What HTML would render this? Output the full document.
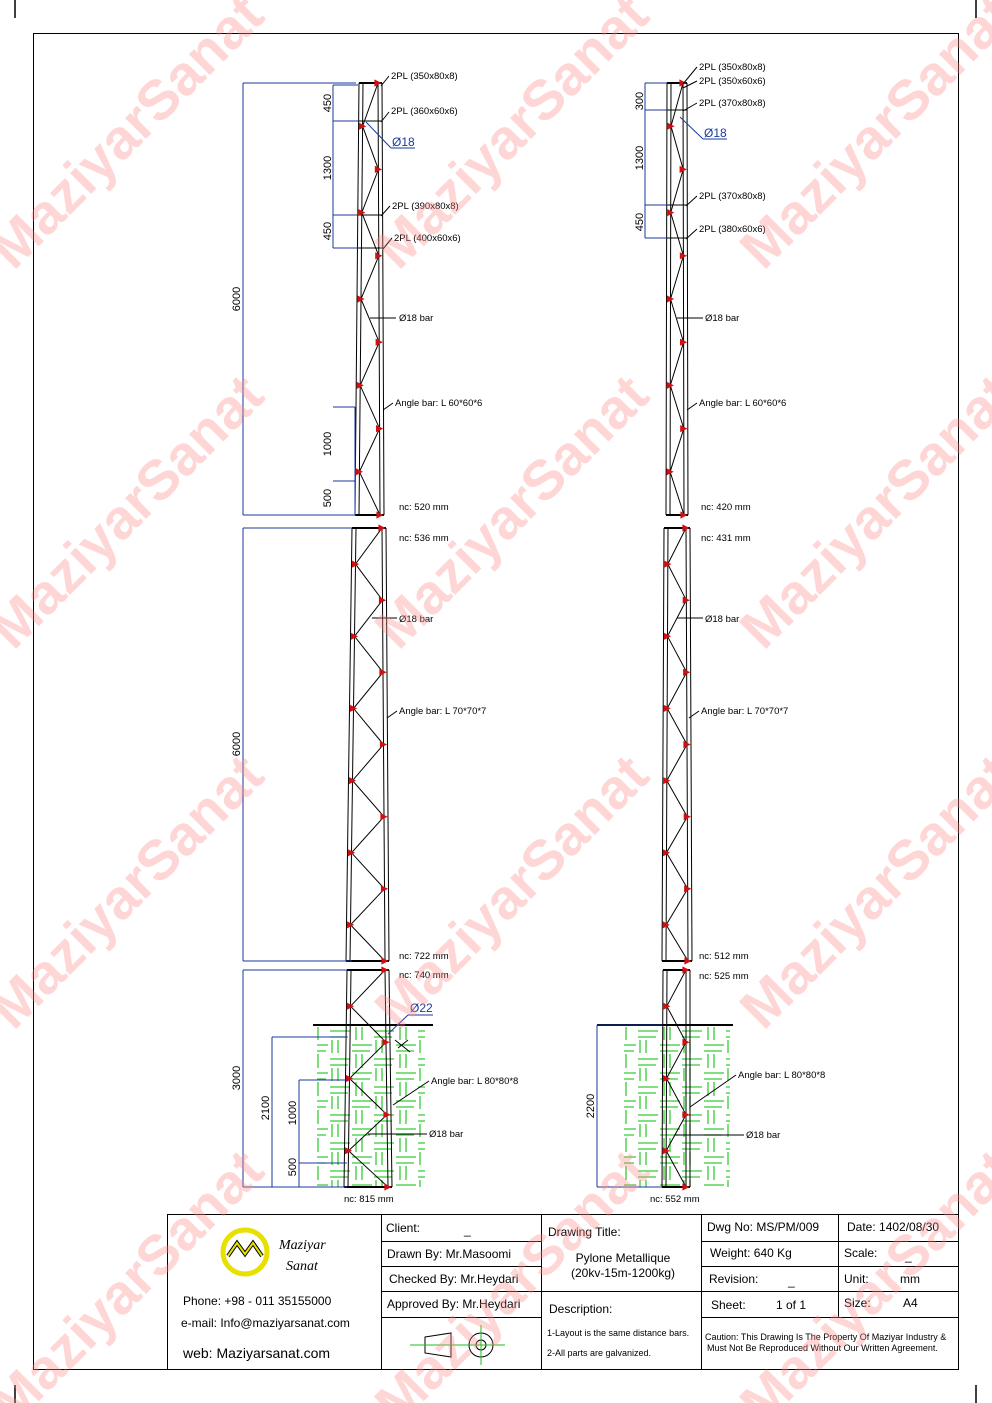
<!DOCTYPE html>
<html><head><meta charset="utf-8"><style>
html,body{margin:0;padding:0;background:#fff}
svg{display:block;font-family:"Liberation Sans",sans-serif}
</style></head><body>
<svg width="992" height="1403" viewBox="0 0 992 1403" xmlns="http://www.w3.org/2000/svg">
<defs>
<marker id="nd" viewBox="-5 -5 10 10" markerWidth="9" markerHeight="9" markerUnits="userSpaceOnUse"><path d="M-4 -4 L4 0 L-4 4Z" fill="#d01010"/></marker>
<pattern id="sp" x="0" y="1025" width="44" height="28" patternUnits="userSpaceOnUse">
<g stroke="#33cc33" stroke-width="1.3">
<line x1="22" y1="6" x2="42" y2="6"/><line x1="4" y1="1" x2="4" y2="15"/><line x1="10" y1="1" x2="10" y2="15"/>
<line x1="0" y1="20" x2="20" y2="20"/><line x1="24" y1="15" x2="24" y2="28"/><line x1="30" y1="15" x2="30" y2="28"/>
<line x1="22" y1="12" x2="40" y2="12"/><line x1="0" y1="26" x2="18" y2="26"/>
</g></pattern>
</defs>
<rect x="317" y="1027" width="108" height="160" fill="url(#sp)"/>
<rect x="624" y="1027" width="106" height="160" fill="url(#sp)"/>

<g fill="none" stroke="#000" stroke-width="1">
<path d="M359 83L355 515M363 83L359 515M382 83L384 515M378 83L380 515"/>
<path d="M359 83H382M355 515H384" stroke-width="2"/>
<path d="M352 528L346 961M356 528L350 961M386 528L389 961M382 528L385 961"/>
<path d="M352 528H386M346 961H389" stroke-width="2"/>
<path d="M347 970L344 1187M351 970L348 1187M389 970L392 1187M385 970L388 1187"/>
<path d="M347 970H389M344 1187H392" stroke-width="2"/>
<path d="M667 83L666 515M671 83L670 515M687 83L688 515M683 83L684 515"/>
<path d="M667 83H687M666 515H688" stroke-width="2"/>
<path d="M664 528L662 961M668 528L666 961M690 528L692 961M686 528L688 961"/>
<path d="M664 528H690M662 961H692" stroke-width="2"/>
<path d="M663 970L662 1187M667 970L666 1187M690 970L690 1187M686 970L686 1187"/>
<path d="M663 970H690M662 1187H690" stroke-width="2"/>
<path d="M359 121H382M359 215H382M358 248H382M667 110H687M667 205H687M667 238H687"/>
</g>
<g fill="none" stroke="#000" stroke-width="1" marker-start="url(#nd)" marker-mid="url(#nd)" marker-end="url(#nd)">
<polyline points="378,83 362.6,126.2 378.4,169.4 361.8,212.6 378.8,255.8 361,299 379.2,342.2 360.2,385.4 379.6,428.6 359.4,471.8 380,515"/>
<polyline points="382,528 355.5,564.1 382.5,600.2 354.5,636.3 383,672.3 353.5,708.4 383.5,744.5 352.5,780.6 384,816.7 351.5,852.8 384.5,888.8 350.5,924.9 385,961"/>
<polyline points="385,970 350.5,1006.2 386,1042.3 349.5,1078.5 387,1114.7 348.5,1150.8 388,1187"/>
<polyline points="683,83 671,126.2 683.2,169.4 670.7,212.6 683.4,255.8 670.5,299 683.6,342.2 670.3,385.4 683.8,428.6 670.1,471.8 684,515"/>
<polyline points="686,528 667.8,564.1 686.3,600.2 667.5,636.3 686.7,672.3 667.2,708.4 687,744.5 666.8,780.6 687.3,816.7 666.5,852.8 687.7,888.8 666.2,924.9 688,961"/>
<polyline points="686,970 666.8,1006.2 686,1042.3 666.5,1078.5 686,1114.7 666.2,1150.8 686,1187"/>
</g>
<g stroke="#000" stroke-width="1" fill="none">
<path d="M313 1025H433M597 1025H733" stroke-width="2"/>
<path d="M395 1040L410 1052M398 1048L408 1040"/>
<path d="M389 76L381 86M389 112L381 122M390 206L381 216M392 238L383 249M396 318L370 318M393 403L383 410M397 711L387 718M429 1081L393 1105M427 1134L368 1134M397 618L372 618
M697 67L683 84M697 81L683 88M697 103L683 111M697 196L686 206M697 229L686 239M703 318L677 318M697 403L687 410M699 711L689 718M736 1075L690 1107M744 1135L675 1135M703 618L677 618"/>
</g>
<g fill="none" stroke="#1a3a9e" stroke-width="1">
<path d="M243 83H356M243 515H356M243 83V515"/>
<path d="M243 528H352M243 961H352M243 528V961"/>
<path d="M243 970H347M243 1187H347M243 970V1187"/>
<path d="M333 85H358M333 121H358M333 215H358M333 248H358M333 85V248"/>
<path d="M355 407H333M355 481H333M355 407V515"/>
<path d="M272 1037H347M272 1037V1187"/>
<path d="M299 1080H347M299 1163H347M299 1080V1187"/>
<path d="M645 83H667M645 110H667M645 205H667M645 238H667M645 83V238"/>
<path d="M597 1025H662M597 1187H662M597 1025V1187"/>
<path d="M391 148H415M391 148L366 122M703 139H727M703 139L680 117M408 1015H433M408 1015L388 1034"/>
</g>
<g font-size="11" fill="#000" text-anchor="middle">
<text x="240" y="299" transform="rotate(-90 240 299)">6000</text>
<text x="240" y="744" transform="rotate(-90 240 744)">6000</text>
<text x="240" y="1078" transform="rotate(-90 240 1078)">3000</text>
<text x="331" y="103" transform="rotate(-90 331 103)">450</text>
<text x="331" y="168" transform="rotate(-90 331 168)">1300</text>
<text x="331" y="231" transform="rotate(-90 331 231)">450</text>
<text x="331" y="444" transform="rotate(-90 331 444)">1000</text>
<text x="331" y="498" transform="rotate(-90 331 498)">500</text>
<text x="269" y="1108" transform="rotate(-90 269 1108)">2100</text>
<text x="296" y="1113" transform="rotate(-90 296 1113)">1000</text>
<text x="296" y="1167" transform="rotate(-90 296 1167)">500</text>
<text x="643" y="101" transform="rotate(-90 643 101)">300</text>
<text x="643" y="158" transform="rotate(-90 643 158)">1300</text>
<text x="643" y="222" transform="rotate(-90 643 222)">450</text>
<text x="594" y="1106" transform="rotate(-90 594 1106)">2200</text>
</g>
<g font-size="9.5" fill="#000">
<text x="391" y="79">2PL (350x80x8)</text><text x="391" y="114">2PL (360x60x6)</text>
<text x="392" y="209">2PL (390x80x8)</text><text x="394" y="241">2PL (400x60x6)</text>
<text x="399" y="321">Ø18 bar</text><text x="395" y="406">Angle bar: L 60*60*6</text>
<text x="399" y="510">nc: 520 mm</text><text x="399" y="541">nc: 536 mm</text>
<text x="399" y="622">Ø18 bar</text><text x="399" y="714">Angle bar: L 70*70*7</text>
<text x="399" y="959">nc: 722 mm</text><text x="399" y="978">nc: 740 mm</text>
<text x="431" y="1084">Angle bar: L 80*80*8</text><text x="429" y="1137">Ø18 bar</text>
<text x="344" y="1202">nc: 815 mm</text>
<text x="699" y="70">2PL (350x80x8)</text><text x="699" y="84">2PL (350x60x6)</text>
<text x="699" y="106">2PL (370x80x8)</text><text x="699" y="199">2PL (370x80x8)</text>
<text x="699" y="232">2PL (380x60x6)</text><text x="705" y="321">Ø18 bar</text>
<text x="699" y="406">Angle bar: L 60*60*6</text><text x="701" y="510">nc: 420 mm</text>
<text x="701" y="541">nc: 431 mm</text><text x="705" y="622">Ø18 bar</text>
<text x="701" y="714">Angle bar: L 70*70*7</text><text x="699" y="959">nc: 512 mm</text>
<text x="699" y="979">nc: 525 mm</text><text x="738" y="1078">Angle bar: L 80*80*8</text>
<text x="746" y="1138">Ø18 bar</text><text x="650" y="1202">nc: 552 mm</text>
</g>
<g font-size="12" fill="#1a3a9e">
<text x="392" y="146">Ø18</text><text x="704" y="137">Ø18</text><text x="410" y="1012">Ø22</text>
</g>

<rect x="33.5" y="33.5" width="925" height="1336" fill="none" stroke="#000" stroke-width="1"/>
<g stroke="#000" stroke-width="1.5">
<line x1="15" y1="0" x2="15" y2="18"/><line x1="976" y1="0" x2="976" y2="18"/>
<line x1="15" y1="1385" x2="15" y2="1403"/><line x1="976" y1="1385" x2="976" y2="1403"/>
</g>
<g fill="none" stroke="#000" stroke-width="1">
<rect x="167.5" y="1214.5" width="791" height="155"/>
<line x1="381.5" y1="1214" x2="381.5" y2="1369"/>
<line x1="541.5" y1="1214" x2="541.5" y2="1369"/>
<line x1="701.5" y1="1214" x2="701.5" y2="1369"/>
<line x1="838.5" y1="1214" x2="838.5" y2="1317"/>
<line x1="381" y1="1241.5" x2="541" y2="1241.5"/>
<line x1="381" y1="1266.5" x2="541" y2="1266.5"/>
<line x1="381" y1="1291.5" x2="541" y2="1291.5"/>
<line x1="381" y1="1317.5" x2="541" y2="1317.5"/>
<line x1="541" y1="1291.5" x2="701" y2="1291.5"/>
<line x1="701" y1="1241.5" x2="958" y2="1241.5"/>
<line x1="701" y1="1266.5" x2="958" y2="1266.5"/>
<line x1="701" y1="1291.5" x2="958" y2="1291.5"/>
<line x1="701" y1="1317.5" x2="958" y2="1317.5"/>
</g>
<g font-size="12" fill="#000">
<text x="386" y="1232">Client:</text><text x="464" y="1234">_</text>
<text x="387" y="1258">Drawn By:   Mr.Masoomi</text>
<text x="389" y="1283">Checked By:  Mr.Heydari</text>
<text x="387" y="1308">Approved By:  Mr.Heydari</text>
<text x="548" y="1236">Drawing Title:</text>
<text x="623" y="1262" text-anchor="middle">Pylone  Metallique</text>
<text x="623" y="1277" text-anchor="middle">(20kv-15m-1200kg)</text>
<text x="549" y="1313">Description:</text>
<text x="547" y="1336" font-size="9">1-Layout is the same distance bars.</text>
<text x="547" y="1356" font-size="9">2-All parts are galvanized.</text>
<text x="707" y="1231">Dwg No:  MS/PM/009</text>
<text x="847" y="1231">Date:   1402/08/30</text>
<text x="710" y="1257">Weight:     640 Kg</text>
<text x="844" y="1257">Scale:</text><text x="905" y="1260">_</text>
<text x="709" y="1283">Revision:</text><text x="788" y="1285">_</text>
<text x="844" y="1283">Unit:</text><text x="900" y="1283">mm</text>
<text x="711" y="1309">Sheet:</text><text x="776" y="1309">1 of 1</text>
<text x="844" y="1307">Size:</text><text x="903" y="1307">A4</text>
<text x="705" y="1340" font-size="9">Caution: This Drawing Is The Property Of Maziyar Industry &amp;</text>
<text x="707" y="1351" font-size="9">Must Not Be Reproduced Without Our Written Agreement.</text>
<text x="183" y="1305">Phone: +98 - 011 35155000</text>
<text x="181" y="1327">e-mail:  Info@maziyarsanat.com</text>
<text x="183" y="1358" font-size="14">web:    Maziyarsanat.com</text>
<text x="279" y="1249" font-size="14" font-style="italic" font-family="Liberation Serif,serif">Maziyar</text>
<text x="286" y="1270" font-size="14" font-style="italic" font-family="Liberation Serif,serif">Sanat</text>
</g>
<g fill="none" stroke="#000">
<circle cx="245" cy="1252" r="22" stroke="#e8e000" stroke-width="5"/>
<path d="M228 1256 L237 1243 L245 1254 L253 1243 L262 1256" stroke="#000" stroke-width="4"/>
<path d="M228 1256 L237 1243 L245 1254 L253 1243 L262 1256" stroke="#e8e000" stroke-width="2"/>
<path d="M425 1337 L451 1333 L451 1357 L425 1353 Z"/>
<circle cx="481" cy="1345" r="12"/><circle cx="481" cy="1345" r="5"/>
<line x1="410" y1="1345" x2="505" y2="1345" stroke="#22bb22"/>
<line x1="481" y1="1325" x2="481" y2="1365" stroke="#22bb22"/>
</g>
<g fill="#ff8a8a" fill-opacity="0.35" font-weight="bold" font-size="56" text-anchor="middle">
<text x="140" y="145" transform="rotate(-45 140 145)">MaziyarSanat</text>
<text x="525" y="145" transform="rotate(-45 525 145)">MaziyarSanat</text>
<text x="890" y="145" transform="rotate(-45 890 145)">MaziyarSanat</text>
<text x="140" y="525" transform="rotate(-45 140 525)">MaziyarSanat</text>
<text x="525" y="525" transform="rotate(-45 525 525)">MaziyarSanat</text>
<text x="890" y="525" transform="rotate(-45 890 525)">MaziyarSanat</text>
<text x="140" y="905" transform="rotate(-45 140 905)">MaziyarSanat</text>
<text x="525" y="905" transform="rotate(-45 525 905)">MaziyarSanat</text>
<text x="890" y="905" transform="rotate(-45 890 905)">MaziyarSanat</text>
<text x="140" y="1300" transform="rotate(-45 140 1300)">MaziyarSanat</text>
<text x="525" y="1300" transform="rotate(-45 525 1300)">MaziyarSanat</text>
<text x="890" y="1300" transform="rotate(-45 890 1300)">MaziyarSanat</text>
</g>
</svg>
</body></html>
